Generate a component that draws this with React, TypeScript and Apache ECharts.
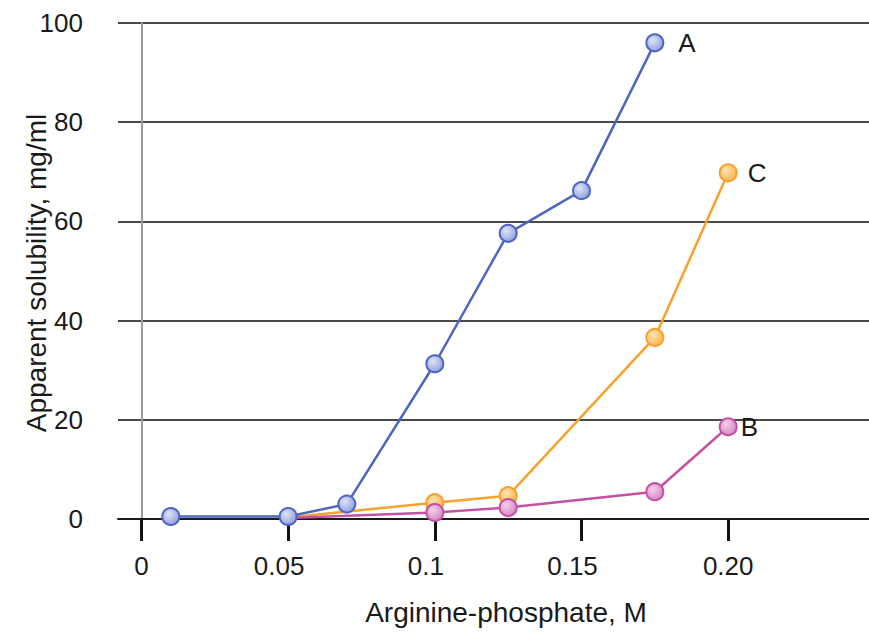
import React, { useEffect, useRef } from "react";
import * as echarts from "echarts";

// Data
const xA = [0.01, 0.05, 0.07, 0.1, 0.125, 0.15, 0.175];
const yA = [0.5, 0.5, 3, 31.3, 57.6, 66.2, 96];

const xC = [0.05, 0.1, 0.125, 0.175, 0.2];
const yC = [0.3, 3.3, 4.7, 36.6, 69.8];

const xB = [0.05, 0.1, 0.125, 0.175, 0.2];
const yB = [0.2, 1.3, 2.3, 5.5, 18.6];

const xTicks = [0, 0.05, 0.1, 0.15, 0.2];
const xTickLabels = ["0", "0.05", "0.1", "0.15", "0.20"];
const xLabelStyle = ["c", "s", "s", "s", "c"];

const FONT = "Liberation Sans, Arial, Helvetica, sans-serif";

function grad(light: string, dark: string) {
  return new echarts.graphic.RadialGradient(0.38, 0.35, 0.7, [
    { offset: 0, color: light },
    { offset: 1, color: dark },
  ]);
}

function makeSeries(
  name: string,
  xs: number[],
  ys: number[],
  lineColor: string,
  light: string,
  dark: string,
  labelDistance: number,
  hideFirst: boolean
) {
  const data = xs.map((x, i) => {
    const item: any = { value: [x, ys[i]] };
    if (hideFirst && i === 0) item.symbol = "none";
    if (i === xs.length - 1) {
      item.label = {
        show: true,
        position: "right",
        distance: labelDistance,
        formatter: name,
        color: "#1a1a1a",
        fontSize: 26,
        fontFamily: FONT,
      };
    }
    return item;
  });
  return {
    name,
    type: "line",
    data,
    symbol: "circle",
    symbolSize: 17,
    lineStyle: { color: lineColor, width: 2.5 },
    itemStyle: { color: grad(light, dark), borderColor: lineColor, borderWidth: 2 },
    label: { show: false },
    emphasis: { disabled: true },
  };
}

export default function App() {
  const ref = useRef<HTMLDivElement>(null);
  useEffect(() => {
    if (!ref.current) return;
    const chart = echarts.init(ref.current, undefined, { renderer: "svg" });
    const labelRich = {
      fontSize: 26,
      fontFamily: FONT,
      color: "#1a1a1a",
    };
    chart.setOption({
      animation: false,
      backgroundColor: "#ffffff",
      grid: { left: 118, right: 0, top: 23, bottom: 114, containLabel: false },
      xAxis: {
        type: "value",
        min: -0.008,
        max: 0.248,
        axisLine: { show: true, onZero: false, lineStyle: { color: "#1a1a1a", width: 2 } },
        axisTick: {
          show: true,
          customValues: xTicks,
          length: 22,
          lineStyle: { color: "#111", width: 3 },
        },
        axisLabel: {
          show: true,
          customValues: xTicks,
          margin: 34,
          fontSize: 26,
          fontFamily: FONT,
          color: "#1a1a1a",
          formatter: (v: number) => {
            const i = xTicks.findIndex((t) => Math.abs(t - v) < 1e-9);
            if (i < 0) return "";
            return "{" + xLabelStyle[i] + "|" + xTickLabels[i] + "}";
          },
          rich: {
            c: { ...labelRich },
            s: { ...labelRich, padding: [0, 18, 0, 0] },
          },
        },
        splitLine: { show: false },
      },
      yAxis: {
        type: "value",
        min: 0,
        max: 100,
        interval: 20,
        axisLine: { show: true, onZero: true, lineStyle: { color: "#9a9a9a", width: 2 } },
        axisTick: { show: false },
        axisLabel: {
          margin: 35,
          fontSize: 26,
          fontFamily: FONT,
          color: "#1a1a1a",
        },
        splitLine: { show: true, lineStyle: { color: "#4a4a4a", width: 2 } },
      },
      series: [
        makeSeries("C", xC, yC, "#f7a12e", "#fde3b0", "#f8b350", 10, true),
        makeSeries("B", xB, yB, "#c452a2", "#f3d0ea", "#d783c2", 3, true),
        makeSeries("A", xA, yA, "#4e66c2", "#dfe3f7", "#8d9ddf", 14, false),
      ],
      graphic: [
        {
          type: "text",
          x: 36,
          y: 273,
          rotation: Math.PI / 2,
          style: {
            text: "Apparent solubility, mg/ml",
            fontSize: 28,
            fontFamily: FONT,
            fill: "#1a1a1a",
            align: "center",
            verticalAlign: "middle",
          },
        },
        {
          type: "text",
          x: 506,
          y: 612,
          style: {
            text: "Arginine-phosphate, M",
            fontSize: 28,
            fontFamily: FONT,
            fill: "#1a1a1a",
            align: "center",
            verticalAlign: "middle",
          },
        },
      ],
    });
    return () => chart.dispose();
  }, []);
  return (
    <div
      ref={ref}
      style={{ position: "fixed", left: 0, top: 0, width: 869, height: 633 }}
    />
  );
}
